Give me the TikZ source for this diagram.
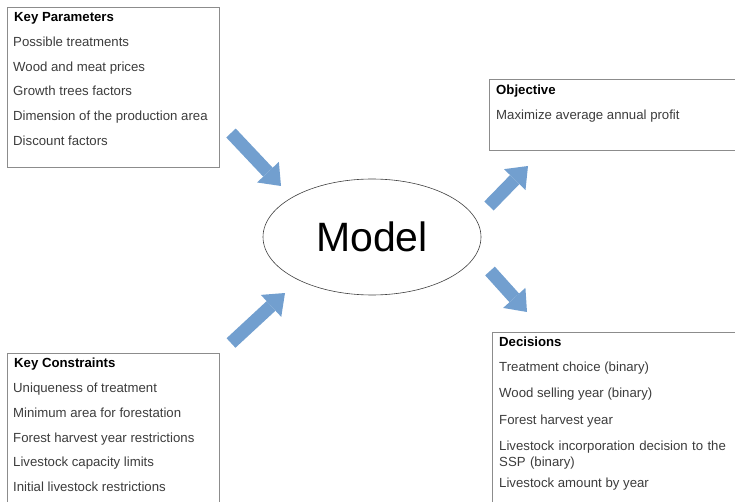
\documentclass[tikz,border=0pt]{standalone}
\usepackage{fontspec}
\setmainfont{Liberation Sans}
\usetikzlibrary{arrows.meta,shapes.geometric}
\definecolor{flowblue}{HTML}{729FCF}
\definecolor{itemgray}{HTML}{3C3C3C}

\begin{document}
\begin{tikzpicture}[x=1pt,y=-1pt,
  panel/.style={draw=black!45,line width=0.8pt,anchor=north west,inner sep=0pt},
  head/.style={anchor=base west,inner sep=0pt,font=\fontsize{13.2}{16}\selectfont\bfseries},
  item/.style={anchor=base west,inner sep=0pt,text=itemgray,font=\fontsize{13.2}{16}\selectfont},
  flow/.style={line width=13pt,flowblue,-{Triangle[width=30pt,length=19pt,line width=0pt]}}]
\useasboundingbox (0,0) rectangle (735,502);

% input panels on the left
\node[panel,minimum width=212.6,minimum height=160.6] (params) at (6.7,6.7) {};
\node[head] (paramsT) at (14,21.7) {Key Parameters};
\foreach \txt [count=\i] in {Possible treatments,Wood and meat prices,Growth trees factors,
  Dimension of the production area,Discount factors}
  \node[item] (par\i) at (13,21.7+24.75*\i) {\txt};

\node[panel,minimum width=212.6,minimum height=170] (constr) at (6.7,352.7) {};
\node[head] (constrT) at (14,367.3) {Key Constraints};
\foreach \txt [count=\i] in {Uniqueness of treatment,Minimum area for forestation,
  Forest harvest year restrictions,Livestock capacity limits,Initial livestock restrictions}
  \node[item] (con\i) at (13,367.3+24.9*\i) {\txt};

% output panels on the right
\node[panel,minimum width=260,minimum height=70.7] (objective) at (489.3,79.3) {};
\node[head] (objT) at (496,95) {Objective};
\node[item] (obj1) at (496,119.3) {Maximize average annual profit};

\node[panel,minimum width=260,minimum height=200] (decisions) at (491.7,331.7) {};
\node[head] (decT) at (499,346.7) {Decisions};
\node[item] (dec1) at (499,371.7) {Treatment choice (binary)};
\node[item] (dec2) at (499,397.3) {Wood selling year (binary)};
\node[item] (dec3) at (499,424) {Forest harvest year};
\node[item,text width=230,align=left] (dec4) at (499,450.7) {Livestock incorporation decision to the\\SSP (binary)};
\node[item] (dec5) at (499,487.7) {Livestock amount by year};

% the model itself
\node[draw=black!75,line width=0.6pt,ellipse,minimum width=218,minimum height=116,inner sep=0pt,
  font=\fontsize{41}{48}\selectfont] (model) at (372,237) {Model};

% block arrows
\coordinate (paramsOut) at (231,133);  \coordinate (modelInA) at (281,186);
\coordinate (constrOut) at (231,343);  \coordinate (modelInB) at (285,293);
\coordinate (modelOutA) at (489,206);  \coordinate (objIn) at (528,166);
\coordinate (modelOutB) at (490,271);  \coordinate (decIn) at (527,312);
\draw[flow] (paramsOut) -- (modelInA);
\draw[flow] (constrOut) -- (modelInB);
\draw[flow] (modelOutA) -- (objIn);
\draw[flow] (modelOutB) -- (decIn);
\end{tikzpicture}
\end{document}
